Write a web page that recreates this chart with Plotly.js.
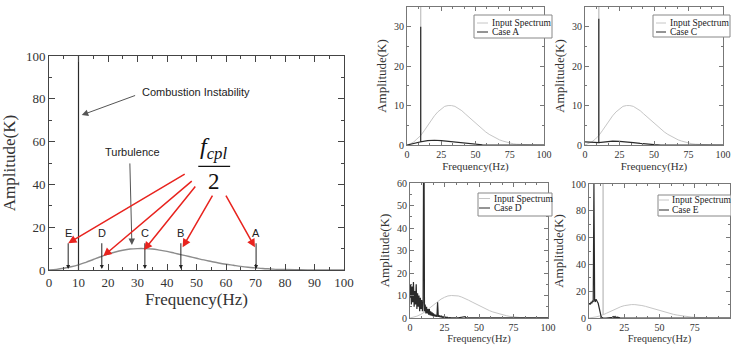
<!DOCTYPE html>
<html><head><meta charset="utf-8">
<script src="https://cdn.plot.ly/plotly-3.0.1.min.js"></script>
<style>html,body{margin:0;padding:0;background:#fff}#chart{width:731px;height:345px}</style>
</head><body><div id="chart"></div>
<script>
// ---------- data ----------
const inputFreq = [0,2.5,5,7.5,10,12.5,15,17.5,20,22.5,25,27.5,30,32.5,35,37.5,40,42.5,45,47.5,50,52.5,55,57.5,60,62.5,65,67.5,70,72.5,75,77.5,80,85,90,95,100];
const inputAmp  = [0,0.3,0.8,1.5,2.4,3.6,4.9,6.2,7.4,8.4,9.2,9.8,10,10,9.8,9.3,8.7,7.9,7.1,6.3,5.5,4.7,4.0,3.3,2.7,2.2,1.7,1.3,1.0,0.7,0.5,0.3,0.2,0.1,0,0,0];
const instabilityFreq = 10;
const instabilityAmp = 100;

const markerLabels = ['E','D','C','B','A'];
const markerFreq = [6.5,17.9,32.5,44.7,70.2];

const caseAFreq = [0,5,10,10,10,15,20,25,30,35,40,45,50,55,60,100];
const caseAAmp  = [0,0.4,0.8,30,0.8,1.1,1.2,1.1,0.9,0.7,0.5,0.3,0.15,0.05,0,0];

const caseCFreq = [0,5,10,10,10,15,20,25,30,35,40,45,50,55,100];
const caseCAmp  = [0.8,0.7,0.6,32,0.6,0.8,1.0,0.9,0.8,0.6,0.4,0.2,0.1,0,0];

const caseDFreq = [0,0.5,1,1.5,2,2.5,3,3.5,4,4.5,5,5.5,6,6.5,7,7.5,8,8.5,9,9.5,10,10.5,11,11.5,12,12.5,13,13.5,14,14.5,15,15.5,16,16.5,17,17.5,18,18.5,19,19.5,20,20.5,21,21.5,22,22.5,23,23.5,24,24.5,25,25.5,26,26.5,27,27.5,28,28.5,29,29.5,30,35,40,40.5,45,50,60,70,80,100];
const caseDAmp  = [9,15,6,14,7,16,5,12,6,15,4,11,5,10,3,9,4,8,3,7,100,3,6,2,5,2,4,1.5,4,1.2,3,1,2.5,0.8,2,0.7,1.6,0.6,1.4,0.5,7,0.5,1.2,0.4,1,0.3,0.8,0.3,0.6,0.2,0.5,0.2,0.4,0.1,0.3,0.1,0.2,0.1,0.2,0.1,0.1,0.1,0.6,0.1,0.1,0.1,0.3,0.1,0.1,0.1];

const caseEFreq = [0,0.5,1,1.5,2,2.5,3,3.5,4,4.5,5,5.5,6,6.5,7,7.5,8,8.5,9,9.5,10,12,15,17,17.5,18,18.5,19,20,21,22,25,30,100];
const caseEAmp  = [10,11,10,12,11,13,12,100,13,12,14,12,12,11,8,5,3,1.5,0.5,0.1,0,0,0,0.5,1,0.4,1.1,0.3,0.6,0.2,0.1,0,0,0];

const caseNames = ['Case A','Case C','Case D','Case E'];

// ---------- helpers ----------
const W = 731, H = 345;
const px = v => v / W;
const py = v => 1 - v / H;

// input spectrum with the instability line, for the small panels
function withSpike(f, a) {
  const xs = [], ys = [];
  for (let i = 0; i < f.length; i++) {
    xs.push(f[i]); ys.push(a[i]);
    if (f[i] === instabilityFreq) { xs.push(f[i], f[i]); ys.push(instabilityAmp, a[i]); }
  }
  return {xs, ys};
}
const spikeInput = withSpike(inputFreq, inputAmp);

const serif = 'Liberation Serif, Times New Roman, serif';
const sans = 'Liberation Sans, Arial, sans-serif';
const lightGray = '#c6c6c6', dark = '#2a2a2a';

const traces = [
  {x: inputFreq, y: inputAmp, mode: 'lines', line: {color: '#8c8c8c', width: 1.4, shape: 'spline'}, xaxis: 'x', yaxis: 'y', showlegend: false},
  {x: [instabilityFreq, instabilityFreq], y: [0, instabilityAmp], mode: 'lines', line: {color: '#2a2a2a', width: 1.2}, xaxis: 'x', yaxis: 'y', showlegend: false}
];
const cases = [[caseAFreq, caseAAmp], [caseCFreq, caseCAmp], [caseDFreq, caseDAmp], [caseEFreq, caseEAmp]];
cases.forEach((c, i) => {
  const ax = i + 2;
  traces.push({x: spikeInput.xs, y: spikeInput.ys, mode: 'lines', line: {color: lightGray, width: 1}, xaxis: 'x' + ax, yaxis: 'y' + ax, name: 'Input Spectrum', showlegend: false});
  traces.push({x: c[0], y: c[1], mode: 'lines', line: {color: dark, width: 1.2}, xaxis: 'x' + ax, yaxis: 'y' + ax, name: caseNames[i], showlegend: false});
});

function mainAxis(dom, dtick, minor, title, tsize, tso) {
  return {domain: dom, range: [0, 100], dtick: dtick, tick0: 0, ticks: 'inside', ticklen: 6, tickcolor: '#444',
    minor: {dtick: minor, ticks: 'inside', ticklen: 3, tickcolor: '#444'},
    mirror: 'ticks', showline: true, linecolor: '#444', linewidth: 1, showgrid: false, zeroline: false,
    tickfont: {family: serif, size: 13, color: '#333'},
    title: {text: title, font: {family: serif, size: tsize, color: '#333'}, standoff: tso}};
}
function subAxis(dom, range, dtick, minor, title, tsize, anchor, tso) {
  return {domain: dom, range: range, dtick: dtick, tick0: 0, ticks: 'inside', ticklen: 4, tickcolor: '#777',
    minor: {dtick: minor, ticks: 'inside', ticklen: 2, tickcolor: '#777'},
    mirror: 'ticks', showline: true, linecolor: '#777', linewidth: 1, showgrid: false, zeroline: false,
    tickfont: {family: serif, size: 10, color: '#333'}, anchor: anchor,
    title: {text: title, font: {family: serif, size: tsize, color: '#333'}, standoff: tso}};
}

const panels = [
  {x: [407, 544], y: [7, 145], yr: [0, 35], yd: 10, ym: 5, tso: 1, ts: 11},
  {x: [585, 723], y: [7, 145], yr: [0, 35], yd: 10, ym: 5, tso: 1, ts: 11},
  {x: [410, 548], y: [183, 318], yr: [0, 60], yd: 10, ym: 5, tso: 2, ts: 10.5},
  {x: [589, 730], y: [184, 318], yr: [0, 100], yd: 20, ym: 10, tso: 2, ts: 10.5}
];

const layout = {
  width: W, height: H, margin: {l: 0, r: 0, t: 0, b: 0},
  paper_bgcolor: '#fff', plot_bgcolor: '#fff', showlegend: false,
  xaxis: Object.assign(mainAxis([px(49), px(344)], 10, 5, 'Frequency(Hz)', 17, 0), {anchor: 'y'}),
  yaxis: Object.assign(mainAxis([py(270), py(56)], 20, 10, 'Amplitude(K)', 17, 6), {anchor: 'x'}),
  shapes: [], annotations: []
};
panels.forEach((p, i) => {
  const n = i + 2;
  layout['xaxis' + n] = subAxis([px(p.x[0]), px(p.x[1])], [0, 100], 25, 25 / 3, 'Frequency(Hz)', p.ts, 'y' + n, p.tso);
  layout['yaxis' + n] = subAxis([py(p.y[1]), py(p.y[0])], p.yr, p.yd, p.ym, 'Amplitude(K)', 13, 'x' + n, 4);
});

// manual legends
const legends = [
  {box: [474, 15, 552, 38], rows: [23, 32], line: [477, 488], tx: 490},
  {box: [653, 15, 730, 37], rows: [23, 32], line: [656, 666], tx: 668},
  {box: [478, 193, 552, 216], rows: [198.5, 208], line: [479, 490], tx: 492},
  {box: [658, 195, 731, 216], rows: [200, 210], line: [659, 669], tx: 670}
];
legends.forEach((L, i) => {
  layout.shapes.push({type: 'rect', xref: 'paper', yref: 'paper', x0: px(L.box[0]), x1: px(L.box[2]), y0: py(L.box[3]), y1: py(L.box[1]), line: {color: '#888', width: 1}, fillcolor: '#fff'});
  [lightGray, dark].forEach((col, k) => {
    layout.shapes.push({type: 'line', xref: 'paper', yref: 'paper', x0: px(L.line[0]), x1: px(L.line[1]), y0: py(L.rows[k]), y1: py(L.rows[k]), line: {color: col, width: 1}});
  });
  ['Input Spectrum', caseNames[i]].forEach((t, k) => {
    layout.annotations.push({xref: 'paper', yref: 'paper', x: px(L.tx), y: py(L.rows[k]), text: t, showarrow: false, xanchor: 'left', yanchor: 'middle', font: {family: serif, size: 9.5, color: '#222'}});
  });
});

// main plot annotations
const A = layout.annotations;
A.push({x: 49.7, y: 83.2, xref: 'x', yref: 'y', text: 'Combustion Instability', showarrow: false, font: {family: sans, size: 11, color: '#222'}});
A.push({x: 11.1, y: 72.4, ax: 29.7, ay: 81.8, xref: 'x', yref: 'y', axref: 'x', ayref: 'y', text: '', showarrow: true, arrowhead: 2, arrowsize: 1.3, arrowwidth: 1, arrowcolor: '#555'});
A.push({x: 28.3, y: 55.1, xref: 'x', yref: 'y', text: 'Turbulence', showarrow: false, font: {family: sans, size: 11, color: '#222'}});
A.push({x: 28.1, y: 11.7, ax: 27.4, ay: 50.5, xref: 'x', yref: 'y', axref: 'x', ayref: 'y', text: '', showarrow: true, arrowhead: 2, arrowsize: 1.3, arrowwidth: 1, arrowcolor: '#555'});
A.push({x: 55.9, y: 48.9, xref: 'x', yref: 'y', yanchor: 'bottom', text: '<i>f<sub>cpl</sub></i>', showarrow: false, font: {family: serif, size: 24, color: '#111'}});
A.push({x: 55.9, y: 47.9, xref: 'x', yref: 'y', yanchor: 'top', text: '2', showarrow: false, font: {family: serif, size: 23, color: '#111'}});
layout.shapes.push({type: 'line', xref: 'x', yref: 'y', x0: 50.6, x1: 61.4, y0: 48.4, y1: 48.4, line: {color: '#111', width: 1.3}});

markerLabels.forEach((lab, i) => {
  A.push({x: markerFreq[i], y: 17.3, xref: 'x', yref: 'y', text: lab, showarrow: false, font: {family: sans, size: 11, color: '#222'}});
  A.push({x: markerFreq[i], y: 0.5, ax: markerFreq[i], ay: 13.2, xref: 'x', yref: 'y', axref: 'x', ayref: 'y', text: '', showarrow: true, arrowhead: 2, arrowsize: 0.8, arrowwidth: 1, arrowcolor: '#222'});
});
const redHeads = [[6.5, 12.5], [18.4, 6.5], [32.2, 9.3], [45.3, 10.6], [69.8, 10.6]];
const redTails = [[46.5, 45.2], [48.9, 42.1], [50.0, 39.7], [55.7, 35.5], [59.7, 35.5]];
redHeads.forEach((h, i) => {
  A.push({x: h[0], y: h[1], ax: redTails[i][0], ay: redTails[i][1], xref: 'x', yref: 'y', axref: 'x', ayref: 'y', text: '', showarrow: true, arrowhead: 2, arrowsize: 1.1, arrowwidth: 1.5, arrowcolor: '#e8231e'});
});

Plotly.newPlot('chart', traces, layout, {staticPlot: true, displayModeBar: false});
</script>
</body></html>
